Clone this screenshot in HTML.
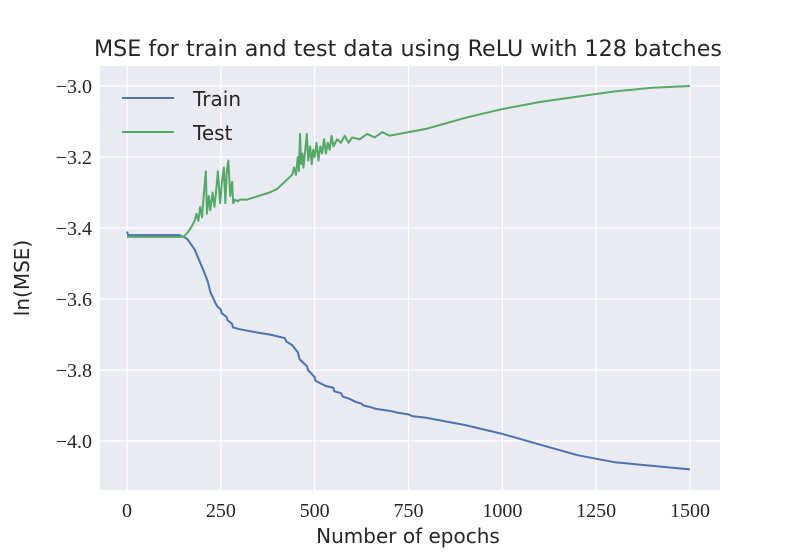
<!DOCTYPE html>
<html><head><meta charset="utf-8"><style>
body{margin:0;background:#fff}
svg text{fill:#262626}
.tick{font-family:"Liberation Serif",serif;font-size:20px}
.lab{font-family:"DejaVu Sans","Liberation Sans",sans-serif;font-size:20px}
.title{font-family:"DejaVu Sans","Liberation Sans",sans-serif;font-size:22px}
</style></head><body>
<svg id="c" width="800" height="550" xmlns="http://www.w3.org/2000/svg">
<rect x="100" y="66" width="620" height="424" fill="#eaeaf2"/>
<g id="grid"></g><g id="lines"></g>
<text class="title" x="408" y="56" text-anchor="middle" textLength="628" lengthAdjust="spacingAndGlyphs">MSE for train and test data using ReLU with 128 batches</text>
<text class="lab" x="408" y="543" text-anchor="middle">Number of epochs</text>
<text class="lab" transform="translate(29,278) rotate(-90)" text-anchor="middle">ln(MSE)</text>
<g>
<line x1="122" y1="98" x2="174" y2="98" stroke="#4c72b0" stroke-width="2"/>
<text class="lab" x="193" y="106">Train</text>
<line x1="122" y1="132" x2="174" y2="132" stroke="#55a868" stroke-width="2"/>
<text class="lab" x="193" y="140">Test</text>
</g>
</svg>
<script>
const xTicks=[0,250,500,750,1000,1250,1500];
const yTicks=[-3.0,-3.2,-3.4,-3.6,-3.8,-4.0];
const trainEpochs=[0,3,140,160,180,200,215,222,235,240,250,252,265,268,280,282,300,350,380,400,420,425,440,455,460,470,480,482,500,502,520,530,550,552,570,575,590,600,610,625,630,650,665,700,720,750,760,800,850,900,1000,1100,1200,1300,1400,1500];
const trainVals=[-3.41,-3.42,-3.42,-3.43,-3.46,-3.51,-3.55,-3.58,-3.61,-3.62,-3.63,-3.64,-3.65,-3.66,-3.67,-3.68,-3.685,-3.695,-3.70,-3.705,-3.71,-3.72,-3.73,-3.75,-3.77,-3.78,-3.79,-3.80,-3.82,-3.83,-3.84,-3.845,-3.85,-3.86,-3.865,-3.875,-3.88,-3.885,-3.89,-3.895,-3.90,-3.905,-3.91,-3.915,-3.92,-3.925,-3.93,-3.935,-3.945,-3.955,-3.98,-4.01,-4.04,-4.06,-4.07,-4.08];
const testEpochs=[0,150,160,170,180,185,190,195,200,205,210,213,218,222,228,233,238,242,248,252,258,262,266,270,275,280,283,288,295,300,320,350,380,400,420,430,440,445,450,455,458,461,464,467,470,475,479,483,488,492,496,500,505,510,515,520,525,530,535,540,545,550,560,570,580,590,600,620,640,660,680,700,750,800,900,1000,1100,1200,1300,1400,1500];
const testVals=[-3.425,-3.425,-3.415,-3.40,-3.38,-3.36,-3.38,-3.34,-3.37,-3.30,-3.24,-3.36,-3.31,-3.35,-3.30,-3.34,-3.29,-3.24,-3.33,-3.28,-3.23,-3.33,-3.24,-3.21,-3.31,-3.27,-3.33,-3.32,-3.325,-3.32,-3.32,-3.31,-3.30,-3.29,-3.27,-3.26,-3.25,-3.23,-3.25,-3.20,-3.24,-3.135,-3.22,-3.19,-3.23,-3.18,-3.135,-3.21,-3.17,-3.22,-3.18,-3.20,-3.16,-3.21,-3.17,-3.19,-3.15,-3.19,-3.16,-3.18,-3.14,-3.17,-3.15,-3.16,-3.14,-3.16,-3.145,-3.15,-3.135,-3.145,-3.13,-3.14,-3.13,-3.12,-3.09,-3.065,-3.045,-3.03,-3.015,-3.005,-3.0];
const X=e=>127+e*563/1500, Y=v=>86+(-3.0-v)*355;
const ns="http://www.w3.org/2000/svg", g=document.getElementById('grid'), L=document.getElementById('lines');
function mk(t,a,p){const e=document.createElementNS(ns,t);for(const k in a)e.setAttribute(k,a[k]);p.appendChild(e);return e;}
xTicks.forEach(t=>{const l=mk('line',{x1:X(t),x2:X(t),y1:66,y2:490,stroke:'#fff','stroke-width':1.3},g);


const s=mk('text',{x:X(t),y:517,'text-anchor':'middle',class:'tick'},g);s.textContent=t;

});
yTicks.forEach(t=>{const l=mk('line',{x1:100,x2:720,y1:Y(t),y2:Y(t),stroke:'#fff','stroke-width':1.3},g);


const s=mk('text',{x:92,y:Y(t)+7,'text-anchor':'end',class:'tick'},g);s.textContent='\u2212'+Math.abs(t).toFixed(1);

});
function line(ep,vals,col,name){const p=mk('polyline',{points:ep.map((e,i)=>X(e)+','+Y(vals[i])).join(' '),fill:'none',stroke:col,'stroke-width':2,'stroke-linejoin':'round'},L);

}
line(trainEpochs,trainVals,'#4c72b0','train-line');
line(testEpochs,testVals,'#55a868','test-line');
</script>
</body></html>
